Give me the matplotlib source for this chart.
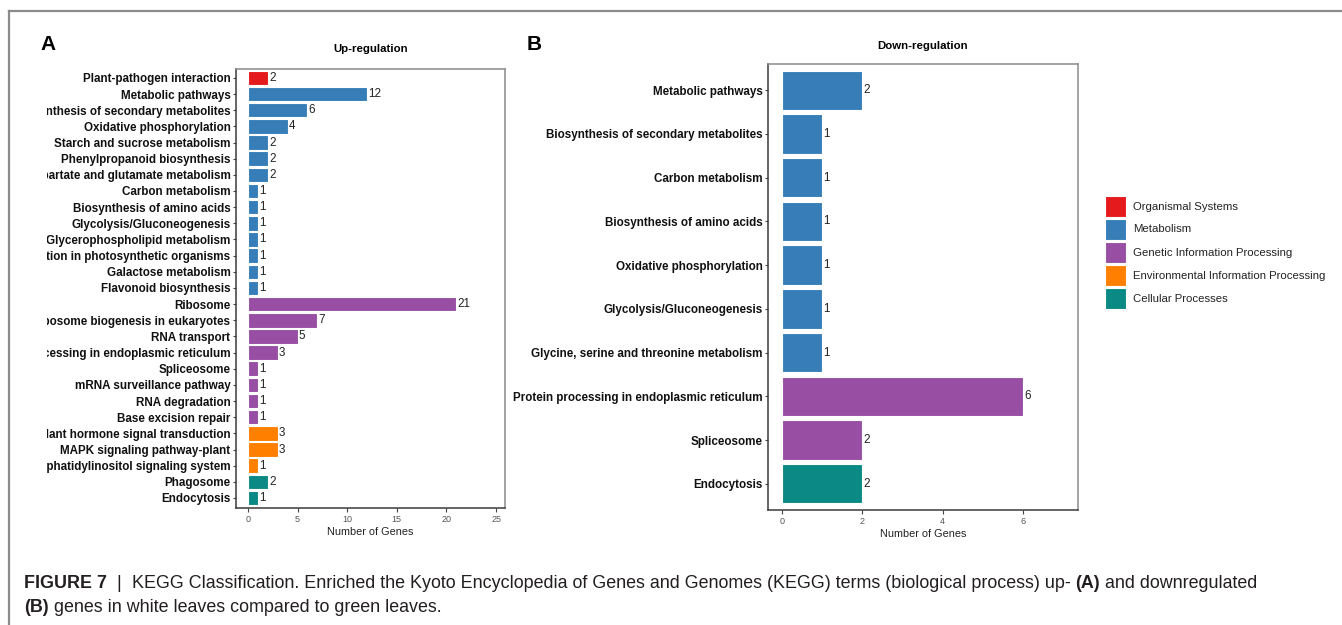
import matplotlib
matplotlib.use("Agg")
import matplotlib.pyplot as plt
from matplotlib.patches import Rectangle
from matplotlib.lines import Line2D
from matplotlib.text import Annotation
from matplotlib.transforms import Bbox, TransformedBbox

plt.rcParams['font.family'] = ['Liberation Sans', 'DejaVu Sans']

class_names = ["Organismal Systems", "Metabolism", "Genetic Information Processing",
               "Environmental Information Processing", "Cellular Processes"]
class_colors = ["#E41A1C", "#377EB8", "#984EA3", "#FF7F00", "#0A8985"]

# Up-regulated KEGG terms
up_terms = ["Plant-pathogen interaction", "Metabolic pathways",
            "Biosynthesis of secondary metabolites", "Oxidative phosphorylation",
            "Starch and sucrose metabolism", "Phenylpropanoid biosynthesis",
            "Alanine, aspartate and glutamate metabolism", "Carbon metabolism",
            "Biosynthesis of amino acids", "Glycolysis/Gluconeogenesis",
            "Glycerophospholipid metabolism", "Carbon fixation in photosynthetic organisms",
            "Galactose metabolism", "Flavonoid biosynthesis", "Ribosome",
            "Ribosome biogenesis in eukaryotes", "RNA transport",
            "Protein processing in endoplasmic reticulum", "Spliceosome",
            "mRNA surveillance pathway", "RNA degradation", "Base excision repair",
            "Plant hormone signal transduction", "MAPK signaling pathway-plant",
            "Phosphatidylinositol signaling system", "Phagosome", "Endocytosis"]
up_counts = [2, 12, 6, 4, 2, 2, 2, 1, 1, 1, 1, 1, 1, 1,
             21, 7, 5, 3, 1, 1, 1, 1, 3, 3, 1, 2, 1]
up_class = [0, 1, 1, 1, 1, 1, 1, 1, 1, 1, 1, 1, 1, 1,
            2, 2, 2, 2, 2, 2, 2, 2, 3, 3, 3, 4, 4]

# Down-regulated KEGG terms
down_terms = ["Metabolic pathways", "Biosynthesis of secondary metabolites",
              "Carbon metabolism", "Biosynthesis of amino acids",
              "Oxidative phosphorylation", "Glycolysis/Gluconeogenesis",
              "Glycine, serine and threonine metabolism",
              "Protein processing in endoplasmic reticulum", "Spliceosome", "Endocytosis"]
down_counts = [2, 1, 1, 1, 1, 1, 1, 6, 2, 2]
down_class = [1, 1, 1, 1, 1, 1, 1, 2, 2, 4]

W, H = 1342, 625
fig = plt.figure(figsize=(W / 100, H / 100), dpi=100)


def fx(px):
    return px / W


def fy(py):
    return 1 - py / H


def panel(rect, terms, counts, classes, xlim, xticks, ylim, title, title_pad):
    l, t, r, b = rect
    ax = fig.add_axes([fx(l), fy(b), (r - l) / W, (b - t) / H])
    y = list(range(len(terms)))
    ax.barh(y, counts, height=0.9, color=[class_colors[c] for c in classes],
            edgecolor='white', linewidth=0.8)
    for yi, c in zip(y, counts):
        ax.annotate(str(c), (c, yi), xytext=(1, 0), textcoords='offset points',
                    ha='left', va='center', fontsize=8.4, color='#222222')
    ax.set_xlim(*xlim)
    ax.set_ylim(*ylim)
    ax.set_xticks(xticks)
    ax.set_yticks(y)
    ax.set_yticklabels(terms, fontsize=8.4, fontweight='bold', color='#111111')
    ax.tick_params(axis='x', length=3, width=0.8, color='#444444', labelsize=6.5,
                   labelcolor='#555555', pad=2)
    ax.tick_params(axis='y', length=2.5, width=0.8, color='#444444', pad=1.5)
    ax.set_xlabel("Number of Genes", fontsize=7.8, color='#222222', labelpad=2)
    ax.set_title(title, fontsize=8.2, fontweight='bold', pad=title_pad)
    for s in ['top', 'right']:
        ax.spines[s].set_color('#8a8a8a')
    for s in ['left', 'bottom']:
        ax.spines[s].set_color('#3a3a3a')
    for s in ax.spines.values():
        s.set_linewidth(1.1)
    return ax


axA = panel((236, 69, 505, 508), up_terms, up_counts, up_class,
            (-1.2, 25.9), [0, 5, 10, 15, 20, 25], (26.62, -0.55),
            "Up-regulation", 12)
axB = panel((768, 64, 1078, 510), down_terms, down_counts, down_class,
            (-0.35, 7.37), [0, 2, 4, 6], (9.6, -0.6),
            "Down-regulation", 11)

# long names in panel A run off the left edge of the figure area
clip = TransformedBbox(Bbox.from_extents(fx(47), 0, 0.2, 1), fig.transFigure)
for lab in axA.get_yticklabels():
    lab.set_clip_box(clip)
    lab.set_clip_on(True)

fig.text(fx(40), fy(50), "A", fontsize=15, fontweight='bold')
fig.text(fx(527), fy(50), "B", fontsize=15, fontweight='bold')

# legend: colour squares and class names
for i, (name, col) in enumerate(zip(class_names, class_colors)):
    top = 196 + 23 * i
    fig.add_artist(Rectangle((fx(1105), fy(top + 21)), 21 / W, 21 / H,
                             transform=fig.transFigure, facecolor=col,
                             edgecolor='white', linewidth=0.8))
    fig.text(fx(1133), fy(top + 10.5), name, fontsize=8.2, color='#222222',
             va='center', ha='left')

# outer frame (top and left edges only)
fig.add_artist(Line2D([fx(9), 1], [fy(11), fy(11)], transform=fig.transFigure,
                      color='#8a8a8a', lw=1.6))
fig.add_artist(Line2D([fx(9), fx(9)], [fy(11), 0], transform=fig.transFigure,
                      color='#8a8a8a', lw=1.6))

# caption built as a chain of annotations so bold/normal runs sit side by side
line1 = [("FIGURE 7", True), ("  |  ", False),
         ("KEGG Classification. Enriched the Kyoto Encyclopedia of Genes and Genomes "
          "(KEGG) terms (biological process) up- ", False),
         ("(A)", True), (" and downregulated", False)]
line2 = [("(B)", True), (" genes in white leaves compared to green leaves.", False)]

for yb, pieces in [(fy(592), line1), (fy(616), line2)]:
    prev = None
    for txt, bold in pieces:
        kw = dict(fontsize=12.9, color='#231f20', fontweight='bold' if bold else 'normal',
                  va='bottom', ha='left')
        if prev is None:
            prev = fig.text(fx(24), yb, txt, **kw)
        else:
            prev = fig.add_artist(Annotation(txt, xy=(1, 0), xycoords=prev, **kw))

fig.savefig("out.png", dpi=100)
